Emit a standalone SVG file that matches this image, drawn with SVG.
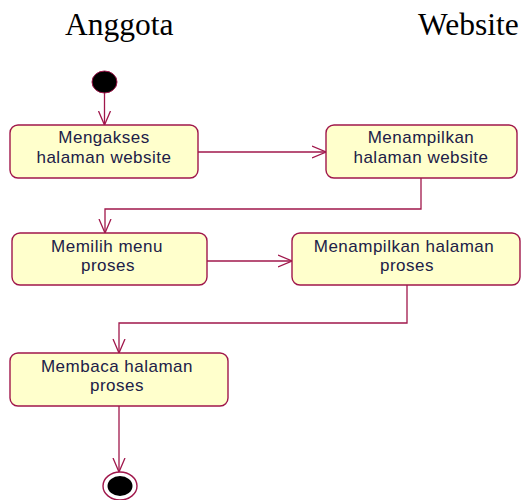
<svg xmlns="http://www.w3.org/2000/svg" width="524" height="500" viewBox="0 0 524 500">
<defs>
<marker id="ah" viewBox="0 0 14 14" refX="14" refY="7" markerWidth="14" markerHeight="14" markerUnits="userSpaceOnUse" orient="auto">
<path d="M0,1 L14,7 L0,13" fill="none" stroke="#A0174B" stroke-width="1.3"/>
</marker>
<style>
.box{fill:#FFFFCC;stroke:#A0174B;stroke-width:1.4}
.t{font-family:"Liberation Sans",Arial,sans-serif;font-size:17px;letter-spacing:0.5px;fill:#202048;text-anchor:middle}
.title{font-family:"Liberation Serif","Times New Roman",serif;font-size:31.5px;fill:#000}
.c{fill:none;stroke:#A0174B;stroke-width:1.3}
</style>
</defs>
<rect width="524" height="500" fill="#fff"/>
<text class="title" x="65" y="35">Anggota</text>
<text class="title" x="418" y="35">Website</text>
<g id="connectors">
<path class="c" d="M104.5,93 V125" marker-end="url(#ah)"/>
<path class="c" d="M198,152 H326" marker-end="url(#ah)"/>
<path class="c" d="M421,178 V209 H105 V233" marker-end="url(#ah)"/>
<path class="c" d="M207,261 H292" marker-end="url(#ah)"/>
<path class="c" d="M407,285 V323 H119 V353" marker-end="url(#ah)"/>
<path class="c" d="M119,406 V472" marker-end="url(#ah)"/>
</g>
<g id="start"><ellipse cx="104.5" cy="82" rx="12.5" ry="11" fill="#000" stroke="#A0174B" stroke-width="1"/></g>
<g id="n1"><rect class="box" x="10" y="125" width="188" height="53" rx="8"/>
<text class="t" x="104" y="143">Mengakses</text><text class="t" x="104" y="163">halaman website</text></g>
<g id="n2"><rect class="box" x="326" y="125" width="191" height="53" rx="8"/>
<text class="t" x="421" y="143">Menampilkan</text><text class="t" x="421" y="163">halaman website</text></g>
<g id="n3"><rect class="box" x="12" y="233" width="195" height="52" rx="8"/>
<text class="t" x="107" y="252">Memilih menu</text><text class="t" x="108" y="271">proses</text></g>
<g id="n4"><rect class="box" x="292" y="233" width="228" height="52" rx="8"/>
<text class="t" x="404" y="252">Menampilkan halaman</text><text class="t" x="407" y="271">proses</text></g>
<g id="n5"><rect class="box" x="10" y="353" width="218" height="53" rx="8"/>
<text class="t" x="117" y="372">Membaca halaman</text><text class="t" x="117" y="391">proses</text></g>
<g id="end"><ellipse cx="120" cy="486" rx="17" ry="14" fill="#fff" stroke="#A0174B" stroke-width="1.4"/>
<ellipse cx="120" cy="486" rx="12.5" ry="10" fill="#000"/></g>
</svg>
